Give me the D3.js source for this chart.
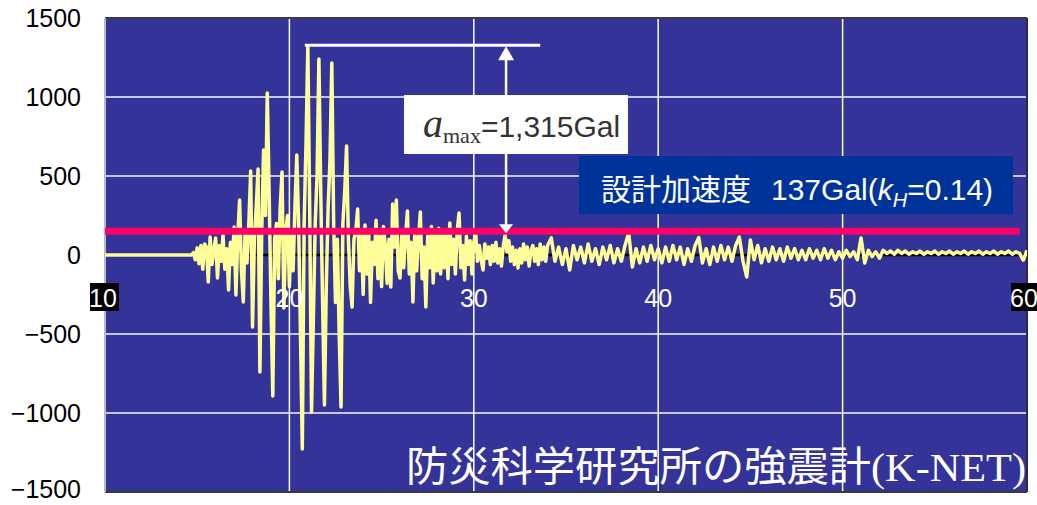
<!DOCTYPE html>
<html>
<head>
<meta charset="utf-8">
<script src="https://cdn.jsdelivr.net/npm/d3@7"></script>
<style>
  body { margin: 0; background: #fff; }
  svg { display: block; }
</style>
</head>
<body>
<svg width="1037" height="505"></svg>
<script>
// --- data (time in s, acceleration in Gal) ---
const quietTimes = [10, 14.7];
const quietAccel = [0, 0];

// 14.7 s .. 34.0 s, every 0.1 s
const denseStart = 14.7, denseStep = 0.1;
const denseAccel = [
  0, 15, -30,                                            // 14.7-14.9
  45, -55, 60, -90, 70, 50, -171, 114, -60, 30,          // 15
  108, -145, 60, -40, 127, -90, 40, -221, 80, -60,       // 16
  177, -253, 120, 348, -100, -297, 150, -50, 200, 532,   // 17
  -456, 100, 300, 544, -740, 150, 664, 250, 1025, 400,   // 18
  -300, -892, 100, 200, -150, 300, 525, -335, 150, 250,  // 19
  -200, 150, -100, 300, 633, 200, -500, -1228, 200, 700, // 20
  1315, 300, -994, -400, 200, 500, 1240, 400, -300, -949,// 21
  -200, 300, 600, 1215, 200, -300, 100, -500, -962, 200, // 22
  400, 690, 100, -200, -329, 100, 150, 291, -100, 150,   // 23
  -250, 190, -120, 150, -300, 80, -60, 220, -150, 120,   // 24
  -200, 180, 60, -180, 100, -202, 323, 50, 348, -100,    // 25
  -146, 150, -80, 120, 278, -120, 80, -297, 150, -100,   // 26
  100, 272, -150, 50, -329, 120, -80, 180, -177, 150,    // 27
  -100, 170, -120, 140, -80, 130, -150, 202, -60, 100,   // 28
  -120, 150, 266, -80, 60, -158, 120, -60, 90, -120,     // 29
  80, 139, -40, 60, -30, -95, 70, -20, 50, -60,          // 30
  60, -40, 80, -50, 40, -70, 60, 127, 20, 90,            // 31
  -40, 50, -60, 30, -82, 40, -50, 70, -30, 50,           // 32
  -70, 30, 60, -40, 40, -60, 70, -30, 50, -40,           // 33
  60                                                     // 34.0
];

// 34.2 s .. 60.0 s, every 0.2 s
const tailStart = 34.2, tailStep = 0.2;
const tailAccel = [
  108, -40, 50, -60, 40, -95, 60, -30, 50, -50,   // 34.2-36.0
  70, -40, 40, -60, 50, -30, 60, -50, 40, -40,    // 36.2-38.0
  60, 139, -76, 40, -50, 50, -40, 60, -30, 40,    // 38.2-40.0
  -50, 50, -40, 60, -30, 50, -60, 40, -40, 60,    // 40.2-42.0
  110, -50, 40, -60, 50, -40, 60, -30, 50, -40,   // 42.2-44.0
  60, 114, -40, -139, 95, -30, 60, -50, 40, -40,  // 44.2-46.0
  50, -30, 40, -40, 50, -20, 40, -30, 30, -30,    // 46.2-48.0
  40, -20, 30, -30, 40, -20, 30, -30, 20, -20,    // 48.2-50.0
  30, -10, 20, -30, 108, -51, 30, -10, 20, -20,   // 50.2-52.0
  30, 10, 25, 5, 30, 10, 25, 5, 20, 10,           // 52.2-54.0
  25, 5, 20, 10, 25, 5, 20, 10, 25, 5,            // 54.2-56.0
  20, 10, 25, 5, 20, 10, 25, 5, 20, 10,           // 56.2-58.0
  25, 5, 20, 10, 25, 5, 20, 10, -32, 30           // 58.2-60.0
];

const xTicks = [10, 20, 30, 40, 50, 60];
const yTicks = [-1500, -1000, -500, 0, 500, 1000, 1500];
const designAccel = 137;
const peakAccel = 1315;
const peakTime = 21.0;

// --- series ---
const series = [];
quietTimes.forEach((t, i) => series.push({ t: t, a: quietAccel[i] }));
denseAccel.forEach((a, i) => series.push({ t: +(denseStart + i * denseStep).toFixed(2), a: a }));
tailAccel.forEach((a, i) => series.push({ t: +(tailStart + i * tailStep).toFixed(2), a: a }));

const svg = d3.select("svg");

const x = d3.scaleLinear().domain([10, 60]).range([105, 1027]);
const y = d3.scaleLinear().domain([-1500, 1500]).range([492, 18]);

// plot background
svg.append("rect")
  .attr("x", x(10)).attr("y", y(1500))
  .attr("width", x(60) - x(10)).attr("height", y(-1500) - y(1500))
  .attr("fill", "#333399");

svg.append("clipPath").attr("id", "plot")
  .append("rect")
  .attr("x", x(10)).attr("y", y(1500))
  .attr("width", x(60) - x(10)).attr("height", y(-1500) - y(1500));

// grid
svg.selectAll(".hgrid")
  .data(yTicks.filter((d) => d !== 0 && Math.abs(d) !== 1500))
  .enter().append("line")
  .attr("x1", x(10)).attr("x2", x(60))
  .attr("y1", (d) => y(d)).attr("y2", (d) => y(d))
  .attr("stroke", "#c4c4ec").attr("stroke-width", 2);

svg.selectAll(".vgrid")
  .data(xTicks.slice(1, -1))
  .enter().append("line")
  .attr("x1", (d) => x(d)).attr("x2", (d) => x(d))
  .attr("y1", y(1500)).attr("y2", y(-1500))
  .attr("stroke", "#ffffff").attr("stroke-width", 1.5);

// frame
svg.append("line").attr("x1", x(10)).attr("x2", x(60)).attr("y1", y(1500)).attr("y2", y(1500))
  .attr("stroke", "#3a3a4a").attr("stroke-width", 2);
svg.append("line").attr("x1", x(10)).attr("x2", x(60)).attr("y1", y(-1500)).attr("y2", y(-1500))
  .attr("stroke", "#3a3a3a").attr("stroke-width", 2);
svg.append("line").attr("x1", x(60)).attr("x2", x(60)).attr("y1", y(1500)).attr("y2", y(-1500))
  .attr("stroke", "#2a2a3a").attr("stroke-width", 2);
svg.append("line").attr("x1", x(10)).attr("x2", x(10)).attr("y1", y(1500)).attr("y2", y(-1500))
  .attr("stroke", "#b8b8c8").attr("stroke-width", 2);

// zero line
svg.append("line").attr("x1", x(10)).attr("x2", x(60)).attr("y1", y(0)).attr("y2", y(0))
  .attr("stroke", "#000").attr("stroke-width", 2.5);

// y axis
const yAxis = svg.append("g")
  .attr("transform", `translate(${x(10)},0)`)
  .call(d3.axisLeft(y).tickValues(yTicks).tickSize(0).tickPadding(24).tickFormat(d3.format("d")));
yAxis.select(".domain").remove();
yAxis.selectAll("text")
  .attr("font-family", "'Liberation Sans', Arial, sans-serif")
  .attr("font-size", 25).attr("fill", "#000");
yAxis.selectAll(".tick").filter((d) => d === -1500)
  .select("text").attr("dy", "0.2em");

// waveform
const line = d3.line().x((d) => x(d.t)).y((d) => y(d.a));
svg.append("path")
  .datum(series)
  .attr("clip-path", "url(#plot)")
  .attr("d", line)
  .attr("fill", "none")
  .attr("stroke", "#ffff99")
  .attr("stroke-width", 3.5)
  .attr("stroke-linejoin", "round");

// design level
svg.append("line")
  .attr("x1", x(10)).attr("x2", x(59.6))
  .attr("y1", y(designAccel) - 2).attr("y2", y(designAccel) - 2)
  .attr("stroke", "#ff0066").attr("stroke-width", 7);

// x labels inside plot
const xLab = svg.append("g");
xLab.selectAll("rect")
  .data([10, 60])
  .enter().append("rect")
  .attr("x", (d) => (d === 60 ? x(d) - 16 : x(d) - 15)).attr("y", 283)
  .attr("width", (d) => (d === 60 ? 26 : 29)).attr("height", 28)
  .attr("fill", "#000");
xLab.selectAll("text")
  .data(xTicks)
  .enter().append("text")
  .attr("x", (d) => (d === 10 ? x(d) - 2 : d === 60 ? x(d) - 3 : x(d)))
  .attr("y", 307)
  .attr("text-anchor", "middle")
  .attr("font-family", "'Liberation Sans', Arial, sans-serif")
  .attr("font-size", 25)
  .attr("fill", "#fff")
  .text((d) => d);

// peak annotation
const arrowX = x(31.75);
const topY = y(peakAccel) - 2;
svg.append("line")
  .attr("x1", x(peakTime) - 3).attr("x2", x(33.6))
  .attr("y1", topY).attr("y2", topY)
  .attr("stroke", "#fff").attr("stroke-width", 3);
svg.append("line")
  .attr("x1", arrowX).attr("x2", arrowX)
  .attr("y1", topY + 8).attr("y2", y(designAccel) - 8)
  .attr("stroke", "#fff").attr("stroke-width", 2.5);
svg.append("path")
  .attr("d", `M${arrowX},${topY + 1} L${arrowX - 8},${topY + 15} L${arrowX + 8},${topY + 15} Z`)
  .attr("fill", "#fff");
svg.append("path")
  .attr("d", `M${arrowX},${y(designAccel)} L${arrowX - 7},${y(designAccel) - 9} L${arrowX + 7},${y(designAccel) - 9} Z`)
  .attr("fill", "#fff");

svg.append("rect")
  .attr("x", 404).attr("y", 95).attr("width", 224).attr("height", 59)
  .attr("fill", "#fff");
const amaxText = svg.append("text")
  .attr("x", 423).attr("y", 137)
  .attr("fill", "#333");
amaxText.append("tspan")
  .attr("font-family", "'Liberation Serif', 'Times New Roman', serif")
  .attr("font-style", "italic").attr("font-size", 40)
  .text("a");
amaxText.append("tspan")
  .attr("font-family", "'Liberation Serif', 'Times New Roman', serif")
  .attr("font-size", 22).attr("dy", 6)
  .text("max");
amaxText.append("tspan")
  .attr("font-family", "'Liberation Sans', Arial, sans-serif")
  .attr("font-size", 30).attr("dy", -6)
  .text("=1,315Gal");

// design acceleration label
svg.append("rect")
  .attr("x", 579).attr("y", 156).attr("width", 434).attr("height", 58)
  .attr("fill", "#003399");
const designText = svg.append("text")
  .attr("x", 601).attr("y", 200)
  .attr("fill", "#fff")
  .attr("font-size", 30);
designText.append("tspan")
  .attr("font-family", "'Noto Sans CJK JP', sans-serif")
  .text("設計加速度");
designText.append("tspan")
  .attr("font-family", "'Liberation Sans', Arial, sans-serif")
  .attr("dx", 20)
  .text("137Gal(");
designText.append("tspan")
  .attr("font-family", "'Liberation Sans', Arial, sans-serif")
  .attr("font-style", "italic")
  .text("k");
designText.append("tspan")
  .attr("font-family", "'Liberation Sans', Arial, sans-serif")
  .attr("font-style", "italic").attr("font-size", 20).attr("dy", 7)
  .text("H");
designText.append("tspan")
  .attr("font-family", "'Liberation Sans', Arial, sans-serif")
  .attr("dy", -7)
  .text("=0.14)");

// source caption
const caption = svg.append("text")
  .attr("x", 406).attr("y", 481)
  .attr("fill", "#fff")
  .attr("font-size", 41)
  .attr("textLength", 620)
  .attr("lengthAdjust", "spacingAndGlyphs");
caption.append("tspan")
  .attr("font-family", "'Noto Sans CJK JP', sans-serif")
  .text("防災科学研究所の強震計");
caption.append("tspan")
  .attr("font-family", "'Liberation Serif', 'Times New Roman', serif")
  .text("(K-NET)");
</script>
</body>
</html>
